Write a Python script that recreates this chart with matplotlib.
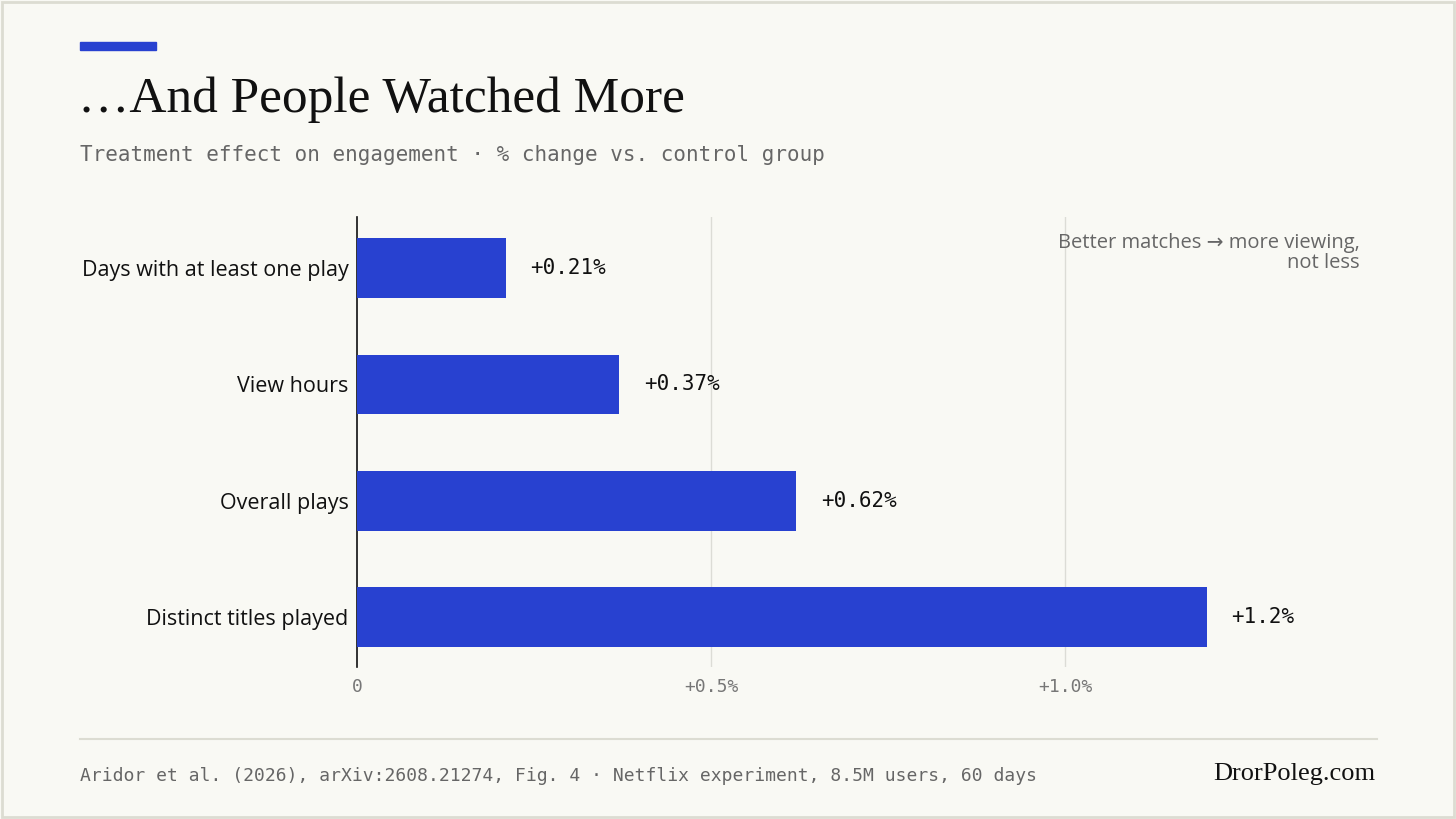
import matplotlib
matplotlib.use('Agg')
import matplotlib.pyplot as plt
from matplotlib.patches import Rectangle
from matplotlib.lines import Line2D

categories = ["Distinct titles played", "Overall plays", "View hours", "Days with at least one play"]
values = [1.2, 0.62, 0.37, 0.21]
value_labels = ["+1.2%", "+0.62%", "+0.37%", "+0.21%"]
xticks = [0, 0.5, 1.0]
xtick_labels = ["0", "+0.5%", "+1.0%"]

bg = "#f9f9f4"
blue = "#2841d0"
W, H = 1456, 819

fig = plt.figure(figsize=(W / 100, H / 100), dpi=100, facecolor=bg)

# border
fig.patches.append(Rectangle((2 / W, 2 / H), 1 - 4 / W, 1 - 4 / H, transform=fig.transFigure,
                             fill=False, edgecolor="#dcdcd2", linewidth=2))
# accent bar
fig.patches.append(Rectangle((80 / W, 1 - 50 / H), 76 / W, 8 / H, transform=fig.transFigure,
                             color=blue))

fig.text(78 / W, 1 - 100 / H, "…And People Watched More", family="Liberation Serif",
         fontsize=37, color="#111111", va="center")
fig.text(80 / W, 1 - 155 / H, "Treatment effect on engagement · % change vs. control group",
         family="DejaVu Sans Mono", fontsize=15, color="#666666", va="center")

ax = fig.add_axes([357 / W, 1 - 667 / H, (1360 - 357) / W, 450 / H])
ax.set_facecolor(bg)
y = range(len(categories))
ax.barh(y, values, height=0.515, color=blue, zorder=3)
for yi, v, lab in zip(y, values, value_labels):
    ax.text(v + 0.035, yi, lab, va="center", family="DejaVu Sans Mono", fontsize=15, color="#111111")
ax.set_xlim(0, 1.4167)
ax.set_ylim(-0.43, 3.44)
ax.set_yticks(list(y))
ax.set_yticklabels(categories, family="Open Sans", fontsize=15.5, color="#111111")
ax.set_xticks(xticks)
ax.set_xticklabels(xtick_labels, family="DejaVu Sans Mono", fontsize=13, color="#777777")
ax.tick_params(length=0, axis="both")
ax.tick_params(axis="x", pad=8)
ax.tick_params(axis="y", pad=6)
for x in xticks[1:]:
    ax.axvline(x, color="#dcdcd6", linewidth=1, zorder=1)
for s in ["top", "right", "bottom"]:
    ax.spines[s].set_visible(False)
ax.spines["left"].set_color("#111111")
ax.spines["left"].set_linewidth(1.2)
ax.text(1.0, 0.965, "Better matches → more viewing,\nnot less", transform=ax.transAxes,
        ha="right", va="top", family=["Open Sans", "DejaVu Sans"], fontsize=14.5,
        color="#666666", linespacing=1.05)

fig.lines.append(Line2D([80 / W, 1377 / W], [1 - 739 / H] * 2, transform=fig.transFigure,
                        color="#dcdcd2", linewidth=1.5))
fig.text(80 / W, 1 - 776 / H, "Aridor et al. (2026), arXiv:2608.21274, Fig. 4 · Netflix experiment, 8.5M users, 60 days",
         family="DejaVu Sans Mono", fontsize=13, color="#666666", va="center")
fig.text(1375 / W, 1 - 774 / H, "DrorPoleg.com", family="Liberation Serif", fontsize=19,
         color="#111111", ha="right", va="center")

fig.savefig("out.png", dpi=100, facecolor=bg)
